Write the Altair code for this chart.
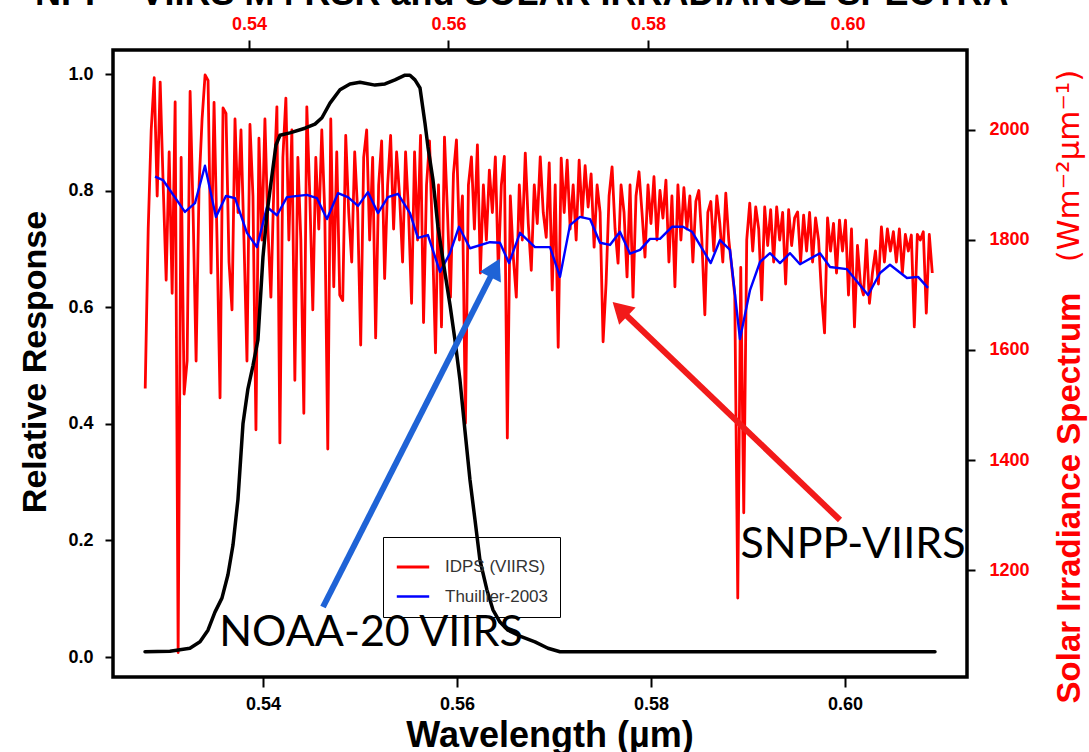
import altair as alt
import pandas as pd

# ---------------- data ----------------
# Relative spectral response (bottom wavelength axis), wavelength in nm
rsr_wl = [527.84, 530.41, 532.47, 533.51, 534.33, 535.05, 535.77, 536.39, 536.91, 537.42,
          537.94, 538.45, 538.97, 539.48, 540.00, 540.41, 540.72, 541.34, 541.75, 542.78,
          544.33, 545.36, 546.08, 546.91, 547.94, 548.97, 550.00, 551.55, 552.58, 553.61,
          554.64, 555.15, 555.67, 556.19, 556.70, 557.01, 557.53, 558.04, 558.76, 559.28,
          559.79, 560.31, 560.82, 561.34, 561.86, 562.37, 563.09, 563.71, 564.43, 565.26,
          566.49, 568.04, 569.38, 570.62, 572.16, 609.28]
rsr_val = [0.009, 0.010, 0.015, 0.026, 0.046, 0.077, 0.101, 0.141, 0.192, 0.270,
           0.400, 0.460, 0.500, 0.544, 0.686, 0.760, 0.800, 0.878, 0.895, 0.899,
           0.907, 0.914, 0.925, 0.950, 0.973, 0.983, 0.986, 0.981, 0.983, 0.990,
           0.998, 0.998, 0.990, 0.976, 0.916, 0.875, 0.818, 0.738, 0.659, 0.604,
           0.544, 0.475, 0.389, 0.304, 0.235, 0.166, 0.115, 0.081, 0.060, 0.046,
           0.036, 0.026, 0.015, 0.009, 0.009, 0.009]

# IDPS (VIIRS) solar spectrum (top wavelength axis), nm and W m-2 um-1
idps_wl = [529.6, 529.9, 530.2, 530.5, 530.8, 531.1, 531.4, 531.7, 532.0, 532.3,
           532.6, 532.9, 533.2, 533.5, 533.8, 534.1, 534.4, 534.7, 535.0, 535.3,
           535.6, 535.9, 536.2, 536.5, 536.8, 537.1, 537.4, 537.7, 538.0, 538.3,
           538.6, 538.9, 539.2, 539.5, 539.8, 540.1, 540.4, 540.7, 541.0, 541.3,
           541.6, 541.9, 542.2, 542.5, 542.8, 543.1, 543.4, 543.7, 544.0, 544.3,
           544.6, 544.9, 545.2, 545.5, 545.8, 546.1, 546.4, 546.7, 547.0, 547.3,
           547.6, 547.9, 548.2, 548.5, 548.8, 549.1, 549.4, 549.7, 550.0, 550.3,
           550.6, 550.9, 551.2, 551.5, 551.8, 552.1, 552.4, 552.7, 553.0, 553.3,
           553.6, 553.9, 554.2, 554.5, 554.8, 555.1, 555.4, 555.7, 556.0, 556.3,
           556.6, 556.9, 557.2, 557.5, 557.8, 558.1, 558.4, 558.7, 559.0, 559.3,
           559.6, 559.9, 560.2, 560.5, 560.8, 561.1, 561.4, 561.7, 562.0, 562.3,
           562.6, 562.9, 563.2, 563.5, 563.8, 564.1, 564.4, 564.7, 565.0, 565.3,
           565.6, 565.9, 566.2, 566.5, 566.8, 567.1, 567.4, 567.7, 568.0, 568.3,
           568.6, 568.9, 569.2, 569.5, 569.8, 570.1, 570.4, 570.7, 571.0, 571.3,
           571.6, 571.9, 572.2, 572.5, 572.8, 573.1, 573.4, 573.7, 574.0, 574.3,
           574.6, 574.9, 575.2, 575.5, 575.8, 576.1, 576.4, 576.7, 577.0, 577.3,
           577.6, 577.9, 578.2, 578.5, 578.8, 579.1, 579.4, 579.7, 580.0, 580.3,
           580.6, 580.9, 581.2, 581.5, 581.8, 582.1, 582.4, 582.7, 583.0, 583.3,
           583.6, 583.9, 584.2, 584.5, 584.8, 585.1, 585.4, 585.7, 586.0, 586.3,
           586.6, 586.9, 587.2, 587.5, 587.8, 588.1, 588.4, 588.7, 589.0, 589.3,
           589.6, 589.9, 590.2, 590.5, 590.8, 591.1, 591.4, 591.7, 592.0, 592.3,
           592.6, 592.9, 593.2, 593.5, 593.8, 594.1, 594.4, 594.7, 595.0, 595.3,
           595.6, 595.9, 596.2, 596.5, 596.8, 597.1, 597.4, 597.7, 598.0, 598.3,
           598.6, 598.9, 599.2, 599.5, 599.8, 600.1, 600.4, 600.7, 601.0, 601.3,
           601.6, 601.9, 602.2, 602.5, 602.8, 603.1, 603.4, 603.7, 604.0, 604.3,
           604.6, 604.9, 605.2, 605.5, 605.8, 606.1, 606.4, 606.7, 607.0, 607.3,
           607.6, 607.9, 608.2, 608.5]
idps_val = [1530, 1820, 2000, 2095, 1880, 2087, 1900, 1727, 1960, 1703,
            2051, 1050, 1950, 1520, 1580, 2070, 1850, 1580, 1900, 2020,
            2100, 2090, 1740, 2050, 1800, 1513, 2040, 2030, 1760, 1673,
            2020, 1850, 2000, 1800, 1580, 2010, 1880, 1455, 1985, 1800,
            2020, 1820, 1696, 1900, 2042, 1431, 1950, 2058, 1800, 2000,
            1545, 1950, 1800, 1485, 2042, 1880, 1673, 1950, 1820, 2000,
            1850, 1420, 2020, 1715, 1960, 1700, 1690, 1990, 1850, 1760,
            1960, 1850, 1609, 1950, 2000, 1800, 1950, 1622, 1900, 1980,
            1730, 1900, 1990, 1820, 1960, 1880, 1760, 1960, 1850, 1685,
            1960, 1800, 1990, 1650, 1900, 1980, 1800, 1595, 1900, 1642,
            1987, 1850, 1696, 1920, 1982, 1800, 1880, 1467, 1900, 1951,
            1820, 1973, 1740, 1900, 1800, 1927, 1850, 1951, 1745, 1900,
            1952, 1440, 1880, 1769, 1696, 1900, 1800, 1958, 1830, 1745,
            1900, 1830, 1951, 1850, 1805, 1940, 1709, 1900, 1605, 1949,
            1850, 1945, 1820, 1900, 1800, 1945, 1842, 1935, 1860, 1920,
            1787, 1900, 1850, 1615, 1722, 1880, 1933, 1820, 1758, 1900,
            1850, 1733, 1900, 1696, 1880, 1924, 1850, 1769, 1900, 1830,
            1915, 1800, 1890, 1840, 1909, 1760, 1880, 1715, 1900, 1800,
            1895, 1820, 1880, 1760, 1870, 1890, 1800, 1664, 1850, 1870,
            1780, 1880, 1830, 1760, 1885, 1800, 1750, 1700, 1149, 1750,
            1304, 1800, 1867, 1780, 1860, 1820, 1691, 1860, 1790, 1855,
            1760, 1860, 1800, 1850, 1720, 1855, 1790, 1840, 1851, 1760,
            1845, 1780, 1850, 1760, 1840, 1800, 1700, 1631, 1840, 1780,
            1830, 1740, 1836, 1780, 1836, 1700, 1820, 1642, 1790, 1720,
            1700, 1800, 1685, 1740, 1780, 1720, 1824, 1760, 1820, 1780,
            1815, 1760, 1820, 1740, 1810, 1780, 1809, 1642, 1810, 1800,
            1815, 1667, 1810, 1740]

# Thuillier-2003 solar spectrum (top wavelength axis)
thuillier_wl = [530.58, 531.38, 533.58, 534.59, 535.59, 536.69, 537.69, 538.60, 539.80, 540.80,
                541.80, 542.81, 543.81, 545.81, 546.82, 547.82, 548.92, 549.92, 550.93, 551.93,
                552.93, 553.93, 554.94, 556.14, 556.94, 557.94, 559.15, 560.15, 561.05, 562.16,
                564.16, 565.16, 566.07, 567.17, 568.67, 570.18, 571.18, 572.18, 573.18, 574.19,
                575.19, 576.19, 577.19, 578.20, 579.20, 580.20, 581.20, 582.41, 583.51, 584.41,
                586.29, 587.22, 588.22, 589.22, 590.23, 591.23, 592.23, 593.23, 594.24, 595.24,
                597.24, 598.25, 599.95, 602.06, 603.26, 604.26, 605.96, 607.07, 608.07]
thuillier_val = [1915, 1909, 1851, 1867, 1935, 1842, 1880, 1876, 1813, 1787,
                 1860, 1845, 1878, 1882, 1876, 1838, 1885, 1878, 1862, 1887,
                 1849, 1878, 1884, 1849, 1804, 1809, 1742, 1776, 1824, 1785,
                 1796, 1795, 1758, 1813, 1787, 1787, 1733, 1827, 1842, 1838,
                 1795, 1791, 1815, 1775, 1782, 1802, 1802, 1824, 1824, 1815,
                 1758, 1800, 1782, 1620, 1709, 1760, 1776, 1758, 1776, 1756,
                 1776, 1751, 1747, 1700, 1740, 1755, 1731, 1733, 1713]

series_names = ["IDPS (VIIRS)", "Thuillier-2003"]
series_colors = ["#ff0000", "#0000ff"]
wl_ticks = [0.54, 0.56, 0.58, 0.60]
rsr_ticks = [0.0, 0.2, 0.4, 0.6, 0.8, 1.0]
irr_ticks = [1200, 1400, 1600, 1800, 2000]

# ---------------- tables ----------------
rsr_df = pd.DataFrame({"wl": [w / 1000 for w in rsr_wl], "rsr": rsr_val,
                       "order": list(range(len(rsr_wl)))})
spec_df = pd.concat([
    pd.DataFrame({"wl": [w / 1000 for w in idps_wl], "irr": idps_val,
                  "series": series_names[0], "order": list(range(len(idps_wl)))}),
    pd.DataFrame({"wl": [w / 1000 for w in thuillier_wl], "irr": thuillier_val,
                  "series": series_names[1], "order": list(range(len(thuillier_wl)))}),
], ignore_index=True)

W, H = 854, 627
FONT = "Liberation Sans"

spectra = alt.Chart(spec_df).mark_line(strokeJoin="round").encode(
    x=alt.X("wl:Q",
            scale=alt.Scale(domain=[0.52637, 0.61198], nice=False, zero=False),
            axis=alt.Axis(orient="top", values=wl_ticks, format=".2f", title=None,
                          domain=False, grid=False, tickColor="black", tickWidth=2,
                          tickSize=10, labelPadding=7, labelFont=FONT, labelFontSize=18,
                          labelFontWeight="bold", labelColor="#ff0000")),
    y=alt.Y("irr:Q",
            scale=alt.Scale(domain=[1005.5, 2145.4], nice=False, zero=False),
            axis=alt.Axis(orient="right", values=irr_ticks, format="d", title=None,
                          domain=False, grid=False, tickColor="black", tickWidth=2,
                          tickSize=8, labelPadding=14, labelFont=FONT, labelFontSize=18,
                          labelFontWeight="bold", labelColor="#ff0000")),
    color=alt.Color("series:N",
                    scale=alt.Scale(domain=series_names, range=series_colors),
                    legend=alt.Legend(title=None, orient="none", legendX=270, legendY=487,
                                      direction="vertical", symbolType="stroke",
                                      symbolSize=1050, symbolStrokeWidth=2.5,
                                      labelFont=FONT, labelFontSize=17, labelColor="#333333",
                                      labelOffset=14, padding=12, rowPadding=4,
                                      strokeColor="black")),
    strokeWidth=alt.StrokeWidth("series:N",
                                scale=alt.Scale(domain=series_names, range=[2.8, 2.4]),
                                legend=None),
    order="order:Q",
)

rsr_line = alt.Chart(rsr_df).mark_line(color="black", strokeWidth=3.5,
                                       strokeJoin="round", strokeCap="round").encode(
    x=alt.X("wl:Q",
            scale=alt.Scale(domain=[0.52454, 0.61258], nice=False, zero=False),
            axis=alt.Axis(orient="bottom", values=wl_ticks, format=".2f", title=None,
                          domain=False, grid=False, tickColor="black", tickWidth=2,
                          tickSize=10, labelPadding=8, labelFont=FONT, labelFontSize=18,
                          labelFontWeight="bold", labelColor="black")),
    y=alt.Y("rsr:Q",
            scale=alt.Scale(domain=[-0.0343, 1.0412], nice=False, zero=False),
            axis=alt.Axis(orient="left", values=rsr_ticks, format=".1f", title=None,
                          domain=False, grid=False, tickColor="black", tickWidth=2,
                          tickSize=8, labelPadding=12, labelFont=FONT, labelFontSize=18,
                          labelFontWeight="bold", labelColor="black")),
    order="order:Q",
)


def text_layer(txt, x, y, size, color="black", font=FONT, weight="normal",
               angle=0, align="center", baseline="middle"):
    return alt.Chart(pd.DataFrame({"t": [txt]})).mark_text(
        font=font, fontSize=size, fontWeight=weight, color=color, angle=angle,
        align=align, baseline=baseline).encode(
        x=alt.value(x), y=alt.value(y), text="t:N")


one = pd.DataFrame({"k": [0]})

blue_shaft = alt.Chart(one).mark_rule(color="#1f63d6", strokeWidth=6).encode(
    x=alt.value(210), y=alt.value(557), x2=alt.value(379), y2=alt.value(224))
blue_head = alt.Chart(one).mark_point(shape="triangle-up", filled=True, size=560,
                                      color="#1f63d6", opacity=1, angle=27).encode(
    x=alt.value(382), y=alt.value(218))
red_shaft = alt.Chart(one).mark_rule(color="#f21a1a", strokeWidth=6).encode(
    x=alt.value(727), y=alt.value(470), x2=alt.value(512), y2=alt.value(264))
red_head = alt.Chart(one).mark_point(shape="triangle-up", filled=True, size=560,
                                     color="#f21a1a", opacity=1, angle=314).encode(
    x=alt.value(507), y=alt.value(259))

layers = [
    spectra,
    rsr_line,
    blue_shaft, blue_head, red_shaft, red_head,
    text_layer("NOAA-20 VIIRS", 258, 583, 43, font="Lato"),
    text_layer("SNPP-VIIRS", 740, 495, 43, font="Lato"),
    text_layer("Relative Response", -77, 312, 34, weight="bold", angle=270),
    text_layer("Wavelength (µm)", 437, 686, 36, weight="bold"),
    text_layer("Solar Irradiance Spectrum", 957, 448, 33, color="#ff0000",
               weight="bold", angle=270),
    text_layer("(Wm⁻²µm⁻¹)", 957, 116, 31, color="#ff0000", font="DejaVu Sans",
               angle=270),
    text_layer("NPP - VIIRS M4 RSR and SOLAR IRRADIANCE SPECTRA", -78, -45, 36,
               weight="bold", align="left", baseline="alphabetic"),
]

chart = alt.layer(*layers).resolve_scale(
    x="independent", y="independent"
).properties(
    width=W, height=H,
    autosize=alt.AutoSizeParams(type="none"),
    padding={"left": 113, "top": 50, "right": 122, "bottom": 75},
    background="white",
).configure_view(stroke="black", strokeWidth=3.5)

chart.save("out.html", embed_options={"renderer": "svg", "actions": False})
